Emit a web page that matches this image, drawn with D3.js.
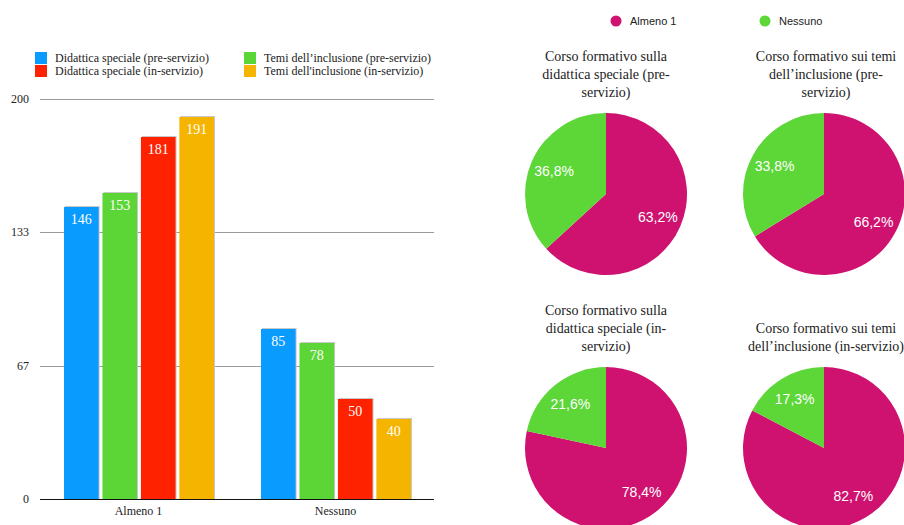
<!DOCTYPE html>
<html>
<head>
<meta charset="utf-8">
<script src="https://cdn.jsdelivr.net/npm/d3@7"></script>
<style>
  body { margin: 0; background: #fff; }
  svg { display: block; }
  .serif { font-family: "Liberation Serif", "Times New Roman", serif; }
  .sans { font-family: "Liberation Sans", Arial, sans-serif; }
</style>
</head>
<body>
<div id="wrapper"></div>
<script>
// data
const categories = ["Almeno 1", "Nessuno"];
const seriesNames = [
  "Didattica speciale (pre-servizio)",
  "Temi dell\u2019inclusione (pre-servizio)",
  "Didattica speciale (in-servizio)",
  "Temi dell'inclusione (in-servizio)",
];
const seriesColors = ["#0A9BFF", "#5CD636", "#FF2200", "#F4B400"];
const almenoValues = [146, 153, 181, 191];
const nessunoValues = [85, 78, 50, 40];
const yTickValues = [0, 200 / 3, 400 / 3, 200];

const pieTitles = [
  ["Corso formativo sulla", "didattica speciale (pre-", "servizio)"],
  ["Corso formativo sui temi", "dell\u2019inclusione (pre-", "servizio)"],
  ["Corso formativo sulla", "didattica speciale (in-", "servizio)"],
  ["Corso formativo sui temi", "dell\u2019inclusione (in-servizio)"],
];
const pieColors = ["#CF1270", "#5DD638"];

function drawChart() {
  const width = 904, height = 525;
  const svg = d3.select("#wrapper").append("svg")
    .attr("width", width)
    .attr("height", height);

  // ---- bar chart ----
  const bar = { left: 40, right: 434, top: 99, bottom: 499 };

  const xScale = d3.scaleBand()
    .domain(categories)
    .range([bar.left, bar.right]);
  const xInner = d3.scaleBand()
    .domain(d3.range(seriesNames.length))
    .range([24, xScale.bandwidth() - 23])
    .paddingInner(0.1);
  const yScale = d3.scaleLinear()
    .domain([0, 200])
    .range([bar.bottom, bar.top]);

  // gridlines
  svg.append("g").selectAll("line")
    .data(yTickValues.slice(1))
    .join("line")
      .attr("x1", bar.left).attr("x2", bar.right)
      .attr("y1", d => Math.round(yScale(d)) + 0.5)
      .attr("y2", d => Math.round(yScale(d)) + 0.5)
      .attr("stroke", "#9a9a9a");

  svg.append("g").selectAll("text")
    .data(yTickValues)
    .join("text")
      .attr("class", "serif")
      .attr("x", 29)
      .attr("y", d => yScale(d) + 4)
      .attr("text-anchor", "end")
      .attr("font-size", 12)
      .attr("fill", "#222")
      .text(d => Math.round(d));

  const rows = categories.map((c, i) => ({
    category: c,
    values: i === 0 ? almenoValues : nessunoValues,
  }));

  const groups = svg.append("g").selectAll("g")
    .data(rows)
    .join("g")
      .attr("transform", d => `translate(${xScale(d.category)},0)`);

  const bars = groups.selectAll("g")
    .data(d => d.values.map((v, i) => ({ v, i })))
    .join("g");

  // faint shadow edge
  bars.append("rect")
    .attr("x", d => xInner(d.i) + 1)
    .attr("y", d => yScale(d.v) - 1)
    .attr("width", xInner.bandwidth())
    .attr("height", d => bar.bottom - yScale(d.v) + 1)
    .attr("fill", "#c8c8c8");
  bars.append("rect")
    .attr("x", d => xInner(d.i))
    .attr("y", d => yScale(d.v))
    .attr("width", xInner.bandwidth())
    .attr("height", d => bar.bottom - yScale(d.v))
    .attr("fill", d => seriesColors[d.i]);
  bars.append("text")
    .attr("class", "serif")
    .attr("x", d => xInner(d.i) + xInner.bandwidth() / 2)
    .attr("y", d => yScale(d.v) + 17)
    .attr("text-anchor", "middle")
    .attr("font-size", 14)
    .attr("fill", "#fff")
    .text(d => d.v);

  // baseline
  svg.append("line")
    .attr("x1", bar.left).attr("x2", bar.right)
    .attr("y1", bar.bottom + 0.5).attr("y2", bar.bottom + 0.5)
    .attr("stroke", "#111");

  svg.append("g").selectAll("text")
    .data(categories)
    .join("text")
      .attr("class", "serif")
      .attr("x", d => xScale(d) + xScale.bandwidth() / 2)
      .attr("y", 515)
      .attr("text-anchor", "middle")
      .attr("font-size", 12)
      .attr("fill", "#222")
      .text(d => d);

  // legend
  const legend = svg.append("g").selectAll("g")
    .data(seriesNames)
    .join("g")
      .attr("transform", (_d, i) => `translate(${i % 2 === 0 ? 35 : 244},${i < 2 ? 52 : 65})`);
  legend.append("rect")
    .attr("width", 12).attr("height", 12)
    .attr("fill", (_d, i) => seriesColors[i]);
  legend.append("text")
    .attr("class", "serif")
    .attr("x", 20)
    .attr("y", 10)
    .attr("font-size", 12)
    .attr("fill", "#222")
    .text(d => d);

  // ---- pies ----
  const pieSets = almenoValues.map((v, i) => [v, nessunoValues[i]]);
  const centers = [[606, 194], [824, 194], [606, 448], [824, 448]];
  const radius = 81;
  const pie = d3.pie().sort(null);
  const arc = d3.arc().innerRadius(0).outerRadius(radius);
  const labelArc = d3.arc().innerRadius(radius * 0.7).outerRadius(radius * 0.7);

  pieSets.forEach((vals, k) => {
    const g = svg.append("g")
      .attr("transform", `translate(${centers[k][0]},${centers[k][1]})`);
    const total = d3.sum(vals);
    const slices = pie(vals);
    g.selectAll("path")
      .data(slices)
      .join("path")
        .attr("d", arc)
        .attr("fill", (_d, i) => pieColors[i]);
    g.selectAll("text")
      .data(slices)
      .join("text")
        .attr("class", "sans")
        .attr("transform", d => `translate(${labelArc.centroid(d)})`)
        .attr("text-anchor", "middle")
        .attr("dy", "0.35em")
        .attr("font-size", 14)
        .attr("font-weight", 500)
        .attr("fill", "#fff")
        .text(d => (d.value / total * 100).toFixed(1).replace(".", ",") + "%");

    const lines = pieTitles[k];
    const titleBottom = k < 2 ? 92 : 346;
    svg.append("g").selectAll("text")
      .data(lines)
      .join("text")
        .attr("class", "serif")
        .attr("x", centers[k][0] + (k % 2 ? 2 : 0))
        .attr("y", (_d, i) => titleBottom + 5 - (lines.length - 1 - i) * 18)
        .attr("text-anchor", "middle")
        .attr("font-size", 14)
        .attr("fill", "#222")
        .text(d => d);
  });

  // pie legend
  const pieLegend = svg.append("g").selectAll("g")
    .data(categories)
    .join("g")
      .attr("transform", (_d, i) => `translate(${616 + i * 149},21)`);
  pieLegend.append("circle")
    .attr("r", 5.5)
    .attr("fill", (_d, i) => pieColors[i]);
  pieLegend.append("text")
    .attr("class", "sans")
    .attr("x", 14)
    .attr("y", 4)
    .attr("font-size", 11)
    .attr("fill", "#222")
    .text(d => d);
}
drawChart();
</script>
</body>
</html>
